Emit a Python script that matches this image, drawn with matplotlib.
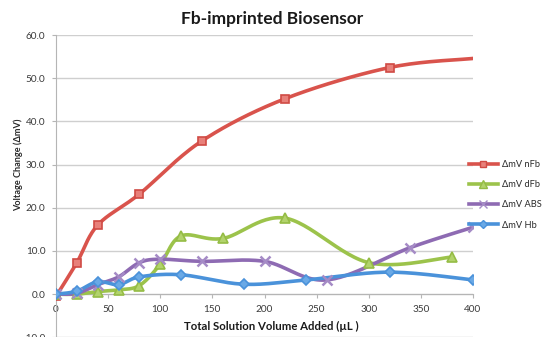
import numpy as np
import matplotlib
matplotlib.use("Agg")
import matplotlib.pyplot as plt

plt.rcParams['font.family'] = ['Lato', 'DejaVu Sans']

# Volume added (µL) and voltage change (mV) for each sample
x_nfb = [0, 20, 40, 80, 140, 220, 320, 400]
y_nfb = [-0.5, 7.3, 16.0, 23.2, 35.5, 45.3, 52.5, 54.6]

x_dfb = [0, 20, 40, 60, 80, 100, 120, 160, 220, 300, 380]
y_dfb = [0.0, 0.0, 0.6, 1.0, 2.0, 6.9, 13.5, 12.9, 17.6, 7.3, 8.6]

x_abs = [0, 20, 40, 60, 80, 100, 140, 200, 260, 340, 400]
y_abs = [0.0, 0.2, 2.2, 4.0, 7.3, 8.1, 7.6, 7.6, 3.3, 10.8, 15.5]

x_hb = [0, 20, 40, 60, 80, 120, 180, 240, 320, 400]
y_hb = [0.0, 0.7, 2.9, 2.2, 4.0, 4.5, 2.3, 3.3, 5.1, 3.3]

labels = ['ΔmV nFb', 'ΔmV dFb', 'ΔmV ABS', 'ΔmV Hb']
y_ticks = [-10, 0, 10, 20, 30, 40, 50, 60]
x_ticks = [0, 50, 100, 150, 200, 250, 300, 350, 400]


def smooth(xs, ys, n=30):
    """Bezier smoothing through the points (spreadsheet-style smoothed line)."""
    p = np.column_stack([xs, ys]).astype(float)
    out = [p[0]]
    for i in range(len(p) - 1):
        p0 = p[i - 1] if i > 0 else p[i]
        p1, p2 = p[i], p[i + 1]
        p3 = p[i + 2] if i + 2 < len(p) else p[i + 1]
        c1 = p1 + (p2 - p0) / 6.0
        c2 = p2 - (p3 - p1) / 6.0
        t = np.linspace(0, 1, n)[1:, None]
        seg = ((1 - t) ** 3) * p1 + 3 * ((1 - t) ** 2) * t * c1 \
            + 3 * (1 - t) * t ** 2 * c2 + t ** 3 * p2
        out.extend(seg)
    out = np.array(out)
    return out[:, 0], out[:, 1]


fig = plt.figure(figsize=(5.43, 3.37), dpi=100)
ax = fig.add_axes([56 / 543, -0.001, 417 / 543, (337.2 - 35) / 337])

series = [
    (x_nfb, y_nfb, '#D9534C', 's', '#E8807A', '#D04A44', 6.0, 'last'),
    (x_dfb, y_dfb, '#9CC34B', '^', '#B2D36C', '#95BC45', 6.5, None),
    (x_abs, y_abs, '#8E6BB3', 'x', '#8E6BB3', '#A58BC6', 6.5, None),
    (x_hb, y_hb, '#4A92DA', 'D', '#6AA9E6', '#4A92DA', 5.0, None),
]

handles = []
for (xs, ys, col, mk, mfc, mec, ms, skip), lab in zip(series, labels):
    sx, sy = smooth(xs, ys)
    ax.plot(sx, sy, color=col, lw=2.6, solid_capstyle='round', zorder=3)
    idx = list(range(len(xs) - 1)) if skip == 'last' else list(range(len(xs)))
    ax.plot([xs[i] for i in idx], [ys[i] for i in idx], linestyle='none',
            marker=mk, ms=ms, mfc=mfc, mec=mec, mew=1.2 if mk != 'x' else 1.8,
            zorder=4)
    h, = ax.plot([], [], color=col, lw=2.6, marker=mk, ms=ms - 1, mfc=mfc,
                 mec=mec, label=lab)
    handles.append(h)

ax.set_xlim(0, 400)
ax.set_ylim(-10, 60)
ax.set_yticks(y_ticks)
ax.set_yticklabels([f'{v:.1f}' for v in y_ticks])
ax.set_xticks(x_ticks)
ax.set_xticklabels([str(v) for v in x_ticks])

ax.yaxis.grid(True, color='#CFCFCF', lw=1.0)
ax.set_axisbelow(True)
for s in ['top', 'right']:
    ax.spines[s].set_visible(False)
ax.spines['left'].set_color('#B5B5B5')
ax.spines['bottom'].set_color('#B5B5B5')
ax.spines['bottom'].set_position(('data', 0))
ax.tick_params(axis='both', colors='#B5B5B5', labelcolor='#3A3A3A',
               labelsize=7.2, length=3, width=0.8)
ax.tick_params(axis='x', pad=4.5)
ax.tick_params(axis='y', pad=4.5)

fig.text(272 / 543, 1 - 19 / 337, 'Fb-imprinted Biosensor', ha='center',
         va='center', fontsize=12.5, fontweight='bold', color='#1A1A1A')
fig.text(271 / 543, 1 - 326 / 337, 'Total Solution Volume Added (µL )',
         ha='center', va='center', fontsize=8.2, fontweight='bold',
         color='#1A1A1A')
fig.text(18 / 543, 1 - 165 / 337, 'Voltage Change (ΔmV)', ha='center',
         va='center', rotation=90, fontsize=6.6, fontweight='bold',
         color='#2A2A2A')

fig.legend(handles=handles, loc='upper left',
           bbox_to_anchor=(469 / 543, 1 - 160 / 337), frameon=False,
           fontsize=6.7, handlelength=3.1, handletextpad=0.4,
           labelspacing=1.2, borderpad=0, borderaxespad=0,
           labelcolor='#2A2A2A')

fig.savefig('out.png', dpi=100)
